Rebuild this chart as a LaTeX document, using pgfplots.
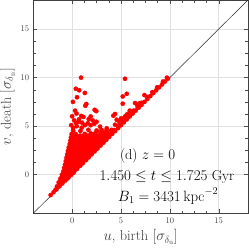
\documentclass[border=0pt]{standalone}
\usepackage{pgfplots}
\pgfplotsset{compat=1.18}
\usepackage{pgfplotstable}
\pgfplotstableread{
u v
-2.2 -2.1
-1.9 -1.8
-1.6 -1.5
-1.3 -1.2
-1.0 -0.9
-0.7 -0.6
-0.4 -0.3
-0.1 0.0
0.2 0.3
0.5 0.6
0.8 0.9
1.1 1.2
1.4 1.5
1.7 1.8
2.0 2.1
2.3 2.4
2.6 2.7
2.9 3.0
3.2 3.3
3.5 3.6
3.8 3.9
4.1 4.2
4.4 4.5
4.7 4.8
5.0 5.1
5.3 5.4
5.6 5.7
5.9 6.0
6.2 6.3
6.5 6.6
6.8 6.9
7.1 7.2
7.4 7.5
7.7 7.8
8.0 8.1
8.3 8.4
8.6 8.7
8.9 9.0
9.2 9.3
9.5 9.6
9.8 9.9
4.3 4.6
4.8 5.1
5.2 5.5
5.5 5.9
5.8 6.3
6.3 6.6
6.7 7.0
7.1 7.4
7.7 8.0
8.2 8.5
8.7 9.0
9.3 9.6
9.7 10.0
5.0 5.8
5.6 6.2
5.9 6.6
7.4 8.2
-1.7 -1.55
-1.55 -1.2
-1.38 -0.8
-1.05 -0.8
-1.2 -0.4
-0.85 -0.4
-0.5 -0.4
-1.05 0.0
-0.7 0.0
-0.35 0.0
-0.9 0.35
-0.55 0.35
-0.2 0.35
0.15 0.35
-0.82 0.7
-0.47 0.7
-0.12 0.7
0.23 0.7
0.5 0.7
-0.73 1.05
-0.38 1.05
-0.03 1.05
0.32 1.05
0.67 1.05
0.9 1.05
-0.65 1.4
-0.3 1.4
0.05 1.4
0.4 1.4
0.75 1.4
1.1 1.4
-0.58 1.75
-0.23 1.75
0.12 1.75
0.47 1.75
0.82 1.75
1.17 1.75
1.45 1.75
-0.5 2.1
-0.15 2.1
0.2 2.1
0.55 2.1
0.9 2.1
1.25 2.1
1.6 2.1
1.85 2.1
-0.43 2.45
-0.08 2.45
0.27 2.45
0.62 2.45
0.97 2.45
1.32 2.45
1.67 2.45
2.0 2.45
2.2 2.45
-0.35 2.8
0.0 2.8
0.35 2.8
0.7 2.8
1.05 2.8
1.4 2.8
1.75 2.8
2.1 2.8
2.45 2.8
-0.25 3.15
0.1 3.15
0.45 3.15
0.8 3.15
1.15 3.15
1.5 3.15
1.85 3.15
2.2 3.15
2.55 3.15
2.85 3.15
-0.18 3.5
0.17 3.5
0.52 3.5
0.87 3.5
1.22 3.5
1.57 3.5
1.92 3.5
2.27 3.5
2.62 3.5
2.97 3.5
3.2 3.5
-0.12 3.85
0.23 3.85
0.58 3.85
0.93 3.85
1.28 3.85
1.63 3.85
1.98 3.85
2.33 3.85
2.68 3.85
3.03 3.85
3.38 3.85
3.6 3.85
-1.3 -1.0
-1.2 -0.6
-0.87 -0.6
-1.03 -0.2
-0.68 -0.2
-0.33 -0.2
-0.88 0.175
-0.53 0.175
-0.18 0.175
0.1 0.175
-0.72 0.525
-0.37 0.525
-0.02 0.525
0.33 0.525
-0.64 0.875
-0.29 0.875
0.06 0.875
0.41 0.875
0.7 0.875
-0.55 1.225
-0.2 1.225
0.15 1.225
0.5 1.225
0.85 1.225
1.05 1.225
-0.48 1.575
-0.13 1.575
0.22 1.575
0.57 1.575
0.92 1.575
1.27 1.575
1.45 1.575
-0.4 1.925
-0.05 1.925
0.3 1.925
0.65 1.925
1.0 1.925
1.35 1.925
1.7 1.925
-0.33 2.275
0.02 2.275
0.37 2.275
0.72 2.275
1.07 2.275
1.42 2.275
1.77 2.275
2.05 2.275
-0.25 2.625
0.1 2.625
0.45 2.625
0.8 2.625
1.15 2.625
1.5 2.625
1.85 2.625
2.2 2.625
2.45 2.625
-0.15 2.975
0.2 2.975
0.55 2.975
0.9 2.975
1.25 2.975
1.6 2.975
1.95 2.975
2.3 2.975
2.65 2.975
-0.08 3.325
0.27 3.325
0.62 3.325
0.97 3.325
1.32 3.325
1.67 3.325
2.02 3.325
2.37 3.325
2.72 3.325
3.05 3.325
0.0 3.675
0.35 3.675
0.7 3.675
1.05 3.675
1.4 3.675
1.75 3.675
2.1 3.675
2.45 3.675
2.8 3.675
3.15 3.675
3.45 3.675
0.1 4.02
0.45 4.02
0.8 4.02
1.15 4.02
1.5 4.02
1.85 4.02
2.2 4.02
2.55 4.02
2.9 4.02
3.25 4.02
3.6 4.02
-0.05 4.2
0.35 4.2
1.3 4.2
1.9 4.25
2.2 4.2
2.9 4.2
3.3 4.2
3.7 4.25
3.95 4.2
0.1 4.55
0.85 4.5
2.5 4.55
3.0 4.5
4.0 4.55
0.91 10.0
0.38 8.85
0.72 8.7
1.3 8.42
0.5 7.98
0.08 7.5
1.45 7.28
1.35 7.1
2.3 6.68
2.47 6.55
0.45 6.3
0.0 6.02
0.93 6.05
1.15 5.95
1.7 5.72
0.4 5.32
1.02 5.35
2.5 5.45
2.27 5.25
0.1 4.82
0.47 5.0
0.98 4.84
1.66 4.62
2.52 4.45
2.86 4.95
3.54 4.78
4.05 4.62
4.73 4.94
3.02 4.6
3.37 4.43
4.39 5.15
4.56 5.66
1.9 5.1
0.2 5.6
1.3 5.1
0.7 5.7
0.3 6.6
1.9 6.0
0.65 5.45
2.1 5.6
-0.1 5.1
1.6 5.3
5.41 9.88
5.59 8.33
5.18 8.06
5.18 7.31
6.44 7.38
6.67 7.2
6.95 7.38
4.39 6.25
4.22 6.08
3.54 4.57
5.41 6.0
6.1 6.35
4.8 5.5
5.3 5.8
}\pts
\begin{document}
\begin{tikzpicture}
\begin{axis}[name=ax,
  scale only axis, width=299pt, height=297pt,
  xmin=-4, xmax=18, ymin=-4, ymax=18,
  xtick={0,5,10,15}, ytick={0,5,10,15},
  minor tick num=3,
  tick align=inside,
  major tick length=6pt, minor tick length=3.5pt,
  every tick/.style={black!70, line width=0.5pt},
  axis line style={black!75, line width=0.7pt},
  grid=major, major grid style={black!12, line width=0.7pt},
  tick label style={font=\fontsize{12}{14}\selectfont, text=black!80},
  xticklabel style={yshift=-3pt},
  yticklabel style={xshift=-2pt},
  xlabel={$u$, birth $[\sigma_{\delta_{\rm u}}]$},
  ylabel={$v$, death $[\sigma_{\delta_{\rm n}}]$},
  every axis x label/.style={at={(axis description cs:0.5,-0.111)}, anchor=center, font=\fontsize{20}{24}\selectfont, text=black!75},
  every axis y label/.style={at={(axis description cs:-0.12,0.5)}, anchor=center, rotate=90, font=\fontsize{20}{24}\selectfont, text=black!75},
  clip=true,
]
\addplot[only marks, mark=*, mark size=3.0pt, color=red, fill=red] table[x=u, y=v] {\pts};
\addplot[black!85, line width=0.7pt] coordinates {(-4,-4) (18,18)};
\node[font=\fontsize{20}{24}\selectfont] at (axis description cs:0.533,0.269) {(d) $z=0$};
\node[font=\fontsize{20}{24}\selectfont] at (axis description cs:0.623,0.170) {$1.450 \le t \le 1.725$ Gyr};
\node[font=\fontsize{20}{24}\selectfont] at (axis description cs:0.628,0.081) {$B_1 = 3431\,{\rm kpc}^{-2}$};
\end{axis}
\pgfresetboundingbox
\path ([xshift=-46pt,yshift=-49pt]ax.south west) rectangle ([xshift=1.4pt]ax.north east);
\end{tikzpicture}
\end{document}
